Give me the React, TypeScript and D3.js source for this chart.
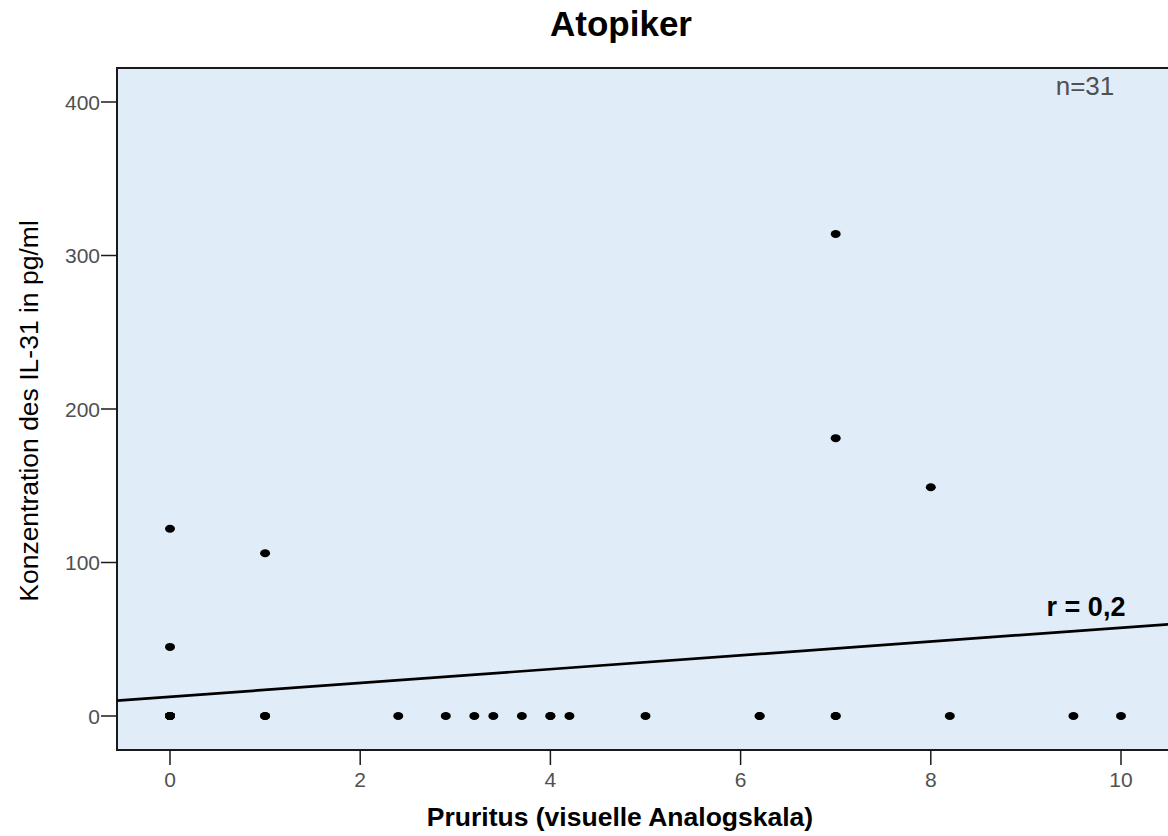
import React from "react";
import * as d3 from "d3";

const title = "Atopiker";
const xLabel = "Pruritus (visuelle Analogskala)";
const yLabel = "Konzentration des IL-31 in pg/ml";
const xTicks = [0, 2, 4, 6, 8, 10];
const yTicks = [0, 100, 200, 300, 400];
// Pruritus VAS values (x) and IL-31 concentration (y); overlapping points repeated
const pruritus = [0, 0, 0, 0, 0, 0, 0, 0, 0, 1, 1, 1, 2.4, 2.9, 3.2, 3.4, 3.7, 4.0, 4.0, 4.2, 5.0, 6.2, 6.2, 7, 7, 7, 7, 8, 8.2, 9.5, 10];
const il31 = [0, 0, 0, 0, 0, 0, 0, 45, 122, 0, 0, 106, 0, 0, 0, 0, 0, 0, 0, 0, 0, 0, 0, 0, 0, 181, 314, 149, 0, 0, 0];
const nLabel = "n=31";
const rLabel = "r = 0,2";
const fitIntercept = 12.5;
const fitSlope = 4.5;

export default function App() {
  const W = 1168, H = 836;
  const left = 117, top = 68, bottom = 750, right = 1190;
  const x = d3.scaleLinear().domain([0, 10]).range([170, 1121]);
  const y = d3.scaleLinear().domain([0, 400]).range([716, 102]);
  const x0 = x.invert(left), x1 = x.invert(right);
  const line = d3.line<number>().x((d) => x(d)).y((d) => y(fitIntercept + fitSlope * d));
  const font = "'Liberation Sans', Arial, sans-serif";
  return (
    <svg width={W} height={H} style={{ position: "absolute", left: 0, top: 0, background: "#fff" }} fontFamily={font}>
      <defs>
        <clipPath id="plotclip">
          <rect x={left} y={top} width={right - left} height={bottom - top} />
        </clipPath>
      </defs>
      <text x={621} y={36} textAnchor="middle" fontSize={35} fontWeight="bold" fill="#000">{title}</text>
      <rect x={left} y={top} width={right - left} height={bottom - top} fill="#E1ECF9" stroke="#1a1a1a" strokeWidth={2} />
      <g clipPath="url(#plotclip)">
        <path d={line([x0, x1]) || ""} fill="none" stroke="#000" strokeWidth={2.7} />
        {pruritus.map((px, i) => (
          <ellipse key={i} cx={x(px)} cy={y(il31[i])} rx={5} ry={4} fill="#000" />
        ))}
      </g>
      {yTicks.map((t) => (
        <g key={"y" + t}>
          <line x1={left - 16} x2={left} y1={y(t)} y2={y(t)} stroke="#1a1a1a" strokeWidth={1.5} />
          <text x={left - 17} y={y(t)} dy="0.36em" textAnchor="end" fontSize={21} fill="#505050">{t}</text>
        </g>
      ))}
      {xTicks.map((t) => (
        <g key={"x" + t}>
          <line x1={x(t)} x2={x(t)} y1={bottom} y2={bottom + 15} stroke="#1a1a1a" strokeWidth={1.5} />
          <text x={x(t)} y={787} textAnchor="middle" fontSize={21} fill="#505050">{t}</text>
        </g>
      ))}
      <text x={1085} y={95} textAnchor="middle" fontSize={26} fill="#505050">{nLabel}</text>
      <text x={1086} y={616} textAnchor="middle" fontSize={27} fontWeight="bold" fill="#000">{rLabel}</text>
      <text x={620} y={826} textAnchor="middle" fontSize={26.5} fontWeight="bold" fill="#000">{xLabel}</text>
      <text transform={`translate(38,${411}) rotate(-90)`} textAnchor="middle" fontSize={26.5} fill="#000">{yLabel}</text>
    </svg>
  );
}
